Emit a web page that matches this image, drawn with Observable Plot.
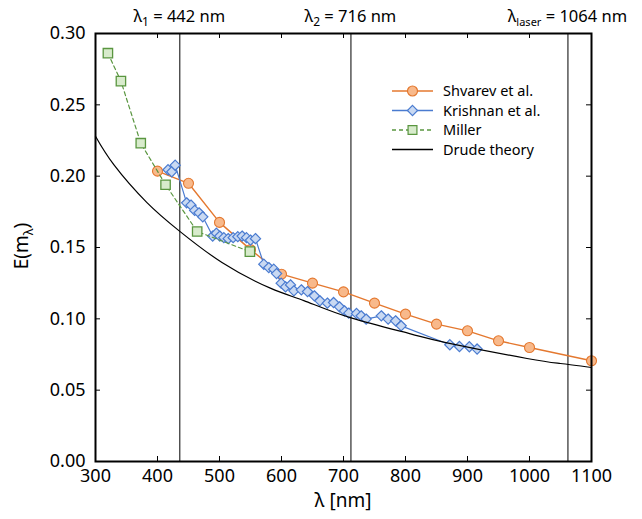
<!DOCTYPE html>
<html><head><meta charset="utf-8">
<script src="https://cdn.jsdelivr.net/npm/d3@7"></script>
<script src="https://cdn.jsdelivr.net/npm/@observablehq/plot@0.6"></script>
<style>
body{margin:0;background:#fff;}
#chart svg{font-family:"Noto Sans",sans-serif;}
</style>
</head><body><div id="chart"></div>
<script>
// ---- data ----
const shvarevWl = [400,450,500,550,600,650,700,750,800,850,900,950,1000,1100];
const shvarevE  = [0.2035,0.195,0.1676,0.1485,0.1313,0.125,0.1189,0.111,0.1033,0.0963,0.0916,0.0846,0.0799,0.0706];

const krishnanWl = [417,423,428.5,447,454,460,467,473,489,495,500.5,507,514,522,529.5,536.5,543.5,550,558,571.5,579.5,587.5,592,599.5,606.5,614.5,620,632,642,653,662,674,684,693.5,701.5,708.5,721,728.5,736.5,761,772,784,793,871.5,887,903,915.5];
const krishnanE  = [0.2045,0.2031,0.2077,0.1813,0.1797,0.176,0.1743,0.1715,0.158,0.16,0.158,0.1569,0.1562,0.1569,0.1576,0.158,0.1569,0.1552,0.1562,0.1383,0.1359,0.1348,0.1317,0.125,0.1224,0.1238,0.1196,0.1203,0.1191,0.1161,0.1126,0.111,0.1114,0.1084,0.1056,0.104,0.1037,0.1021,0.0998,0.1021,0.0998,0.0986,0.0951,0.0818,0.0806,0.0804,0.0788];

const millerWl = [320,341,373,413,464,549];
const millerE  = [0.2862,0.2666,0.2231,0.194,0.1612,0.1471];

const drudeWl = [300,329.5,383,435.5,504,582,636,711,808,867,996,1050,1100];
const drudeE  = [0.228,0.2081,0.1815,0.1615,0.1395,0.1215,0.1128,0.1008,0.0895,0.0832,0.0722,0.0687,0.0659];

const markerLineWl = [436, 712, 1062];
const markerLabels = [
  {base:"λ", sub:"1", rest:" = 442 nm"},
  {base:"λ", sub:"2", rest:" = 716 nm"},
  {base:"λ", sub:"laser", rest:" = 1064 nm"}
];

const xTicks = [300,400,500,600,700,800,900,1000,1100];
const yTicks = [0,0.05,0.10,0.15,0.20,0.25,0.30];

const seriesNames = ["Shvarev et al.","Krishnan et al.","Miller","Drude theory"];

// ---- build tables ----
const zip = (a,b) => a.map((x,i)=>({x, y:b[i]}));
const shvarev = zip(shvarevWl, shvarevE);
const krishnan = zip(krishnanWl, krishnanE);
const miller = zip(millerWl, millerE);
const drude = zip(drudeWl, drudeE);

const orange = "#e4782f", orangeFill = "#f8b98b";
const blue = "#4a7bd0", blueFill = "#c9d9f2";
const green = "#5a9640", greenFill = "#d8ebcc";

const W = 642, H = 519, mL = 95, mR = 51, mT = 33, mB = 58;
const innerW = W - mL - mR, innerH = H - mT - mB, tick = 5;

const plot = Plot.plot({
  width: W, height: H,
  marginLeft: mL, marginRight: mR, marginTop: mT, marginBottom: mB,
  style: {fontFamily: "'Noto Sans', sans-serif", fontSize: "18px", color: "black", background: "white", overflow: "visible"},
  x: {domain: [300, 1100]},
  y: {domain: [0, 0.30]},
  marks: [
    Plot.ruleX(markerLineWl, {stroke: "black", strokeWidth: 1}),
    Plot.line(shvarev, {x: "x", y: "y", stroke: orange, strokeWidth: 1.4}),
    Plot.dot(shvarev, {x: "x", y: "y", r: 5, symbol: "circle", fill: orangeFill, stroke: orange, strokeWidth: 1.1}),
    Plot.line(krishnan, {x: "x", y: "y", stroke: blue, strokeWidth: 1.2}),
    Plot.dot(krishnan, {x: "x", y: "y", r: 4.6, symbol: "diamond2", fill: blueFill, stroke: blue, strokeWidth: 1.2}),
    Plot.line(miller, {x: "x", y: "y", stroke: green, strokeWidth: 1.2, strokeDasharray: "4,3"}),
    Plot.dot(miller, {x: "x", y: "y", r: 5.3, symbol: "square", fill: greenFill, stroke: green, strokeWidth: 1.3}),
    Plot.line(drude, {x: "x", y: "y", curve: "natural", stroke: "black", strokeWidth: 1.2}),
    // inward ticks on all four sides
    Plot.ruleX(xTicks, {stroke: "black", strokeWidth: 1, insetTop: innerH - tick}),
    Plot.ruleX(xTicks, {stroke: "black", strokeWidth: 1, insetBottom: innerH - tick}),
    Plot.ruleY(yTicks, {stroke: "black", strokeWidth: 1, insetRight: innerW - tick}),
    Plot.ruleY(yTicks, {stroke: "black", strokeWidth: 1, insetLeft: innerW - tick}),
    Plot.axisX({anchor: "bottom", ticks: xTicks, tickSize: 0, tickPadding: 8, tickFormat: d => String(d), label: null}),
    Plot.axisY({anchor: "left", ticks: yTicks, tickSize: 0, tickPadding: 10, tickFormat: d => d.toFixed(2), label: null}),
    Plot.frame({stroke: "black", strokeWidth: 2})
  ]
});

document.getElementById("chart").appendChild(plot);
const svg = d3.select(plot);
const xs = plot.scale("x");

// top labels for marker lines
markerLabels.forEach((m, i) => {
  const t = svg.append("text")
    .attr("x", xs.apply(markerLineWl[i]))
    .attr("y", 22)
    .attr("text-anchor", "middle")
    .attr("font-size", 16.5)
    .attr("fill", "black");
  t.append("tspan").text(m.base);
  t.append("tspan").attr("dy", 4).attr("font-size", m.sub.length > 1 ? 11 : 12).text(m.sub);
  t.append("tspan").attr("dy", -4).text(m.rest);
});

// axis titles
svg.append("text")
  .attr("x", mL + innerW / 2).attr("y", 507)
  .attr("text-anchor", "middle").attr("font-size", 19).attr("fill", "black")
  .text("λ [nm]");

const yl = svg.append("text")
  .attr("transform", "translate(28,246) rotate(-90)")
  .attr("text-anchor", "middle").attr("font-size", 19).attr("fill", "black");
yl.append("tspan").text("E(m");
yl.append("tspan").attr("dy", 5).attr("font-size", 13).text("λ");
yl.append("tspan").attr("dy", -5).text(")");

// legend
const legend = svg.append("g").attr("font-size", 14.5).attr("text-anchor", "start");
const rowsY = [91, 110.5, 130, 149.5];
const styles = [
  {stroke: orange, fill: orangeFill, sym: d3.symbolCircle, size: Math.PI*25, dash: null},
  {stroke: blue, fill: blueFill, sym: d3.symbolDiamond2, size: Math.PI*21, dash: null},
  {stroke: green, fill: greenFill, sym: d3.symbolSquare, size: Math.PI*25, dash: "4,3"},
  {stroke: "black", fill: null, sym: null, size: 0, dash: null}
];
seriesNames.forEach((name, i) => {
  const s = styles[i], y = rowsY[i];
  legend.append("line").attr("x1", 392).attr("x2", 433).attr("y1", y).attr("y2", y)
    .attr("stroke", s.stroke).attr("stroke-width", i === 3 ? 1.3 : 1.3)
    .attr("stroke-dasharray", s.dash);
  if (s.sym) {
    legend.append("path").attr("d", d3.symbol(s.sym, s.size)())
      .attr("transform", `translate(412.5,${y})`)
      .attr("fill", s.fill).attr("stroke", s.stroke).attr("stroke-width", 1.2);
  }
  legend.append("text").attr("x", 443).attr("y", y).attr("dy", "0.35em")
    .attr("text-anchor", "start").attr("fill", "black").text(name);
});
</script>
</body></html>
